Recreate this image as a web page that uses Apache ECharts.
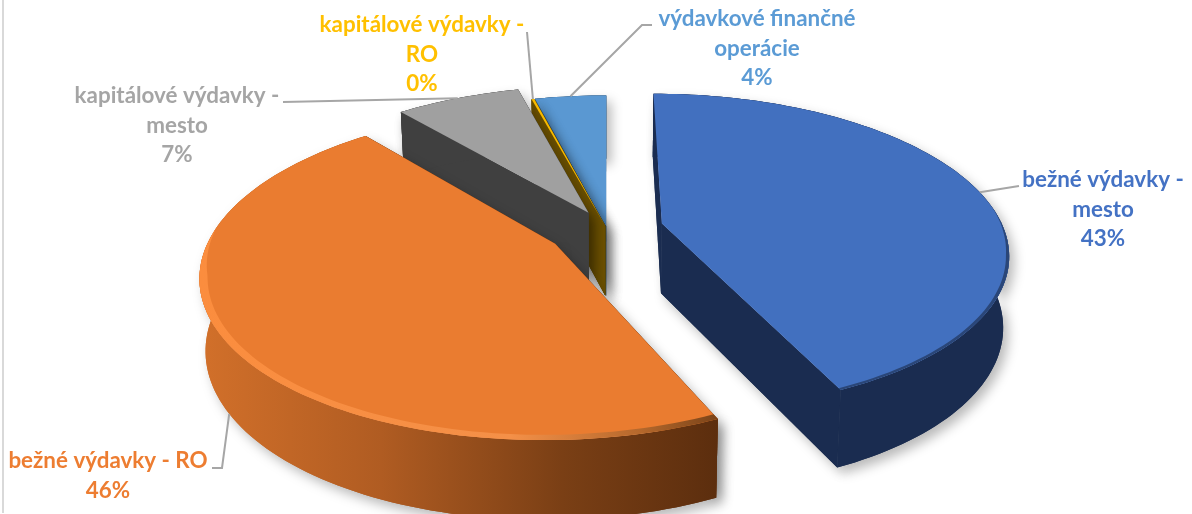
<!DOCTYPE html>
<html><head><meta charset="utf-8">
<style>html,body{margin:0;padding:0;background:#fff}#c{width:1192px;height:514px}</style>
<script src="https://cdn.jsdelivr.net/npm/echarts@6/dist/echarts.min.js"></script>
</head><body><div id="c"></div>
<script>
// data
const categories = ['bežné výdavky - mesto','bežné výdavky - RO','kapitálové výdavky - mesto','kapitálové výdavky - RO','výdavkové finančné operácie'];
const labelLines = [['bežné výdavky -','mesto'],['bežné výdavky - RO'],['kapitálové výdavky -','mesto'],['kapitálové výdavky -','RO'],['výdavkové finančné','operácie']];
const values = [43.2, 45.7, 7.0, 0.15, 3.95];
const explode = [0.165, 0.176, 0.12, 0.02, 0.02];
// style
const topColors  = ['#4270bf','#ea7c30','#a0a0a0','#ffc000','#5a98d2'];
const textColors = ['#4472c4','#ed7d31','#a5a5a5','#ffc000','#5b9bd5'];
const wallColors = ['#1a2c50','#6a350f','#404040','#6b5000','#2f5578'];
const drawOrder = [4,3,2,0,1];
// camera
const CX=607, CY=229, RX=342, TILT=155, K=0.18, DEPTH=70, DEPTH_POW=0.6, BOTTOM_SHRINK=0.985;
const FONT = 'Lato', FS = 22.4, LH = 29.5;
const labelCenter = [[1103,180],[108,461],[177,96],[422,25],[757,19]];
const leaderElbow = [[[1019,186]],[[222,468],[212,468]],[[283,102]],[[527,32]],[[642,25],[652,25]]];
const rimWidth = [0.009,0.022,0,0,0];

const total = values.reduce((a,b)=>a+b,0);
const D2R = Math.PI/180;
let acc=0;
const spans = values.map(v=>{const s=acc; acc+=v/total*360; return [s,acc];});
function proj(i,deg,r,z){
  const th=deg*D2R, m=(spans[i][0]+spans[i][1])/2*D2R, e=explode[i];
  const X=e*Math.sin(m)+r*Math.sin(th), Y=-e*Math.cos(m)-r*Math.cos(th);
  const s=1/(1-K*Y), b=z?BOTTOM_SHRINK:1;
  return [CX+X*s*RX*b, CY+Y*s*TILT+(z?DEPTH*Math.pow(s,DEPTH_POW):0)];
}
function arc(i,r,z){
  const [a,b]=spans[i], n=Math.max(2,Math.ceil((b-a)/1.5)), p=[];
  for(let k=0;k<=n;k++)p.push(proj(i,a+(b-a)*k/n,r,z));
  return p;
}
const shadow={shadowBlur:12,shadowColor:'rgba(0,0,0,0.28)',shadowOffsetX:5,shadowOffsetY:6};
const orangeWall=new echarts.graphic.LinearGradient(0,0,1,0,[
  {offset:0,color:'#d2702a'},{offset:0.35,color:'#b05c22'},{offset:0.7,color:'#7a3f15'},{offset:1,color:'#5c2e0e'}]);
const orangeRim=new echarts.graphic.LinearGradient(0,0,1,0,[
  {offset:0,color:'#fb8d3e'},{offset:0.6,color:'#f49048'},{offset:0.85,color:'#b5682c'},{offset:1,color:'#7a4318'}]);
const wallFill=[null,orangeWall,null,null,null];
const rimFill=['#2a4678',orangeRim,null,null,null];

function renderItem(params,api){
  const i=api.value(0), kids=[];
  const poly=(points,fill,extra)=>kids.push({type:'polygon',shape:{points},style:Object.assign({fill},extra||{})});
  const [a,b]=spans[i], wall=wallFill[i]||wallColors[i];
  const ap0=proj(i,a,0,0), ap1=proj(i,a,0,1);
  const t=arc(i,1,0), bt=arc(i,1,1);
  const outerWall=t.concat(bt.slice().reverse());
  const radials=[a,b].map(d=>[ap0,proj(i,d,1,0),proj(i,d,1,1),ap1]);
  // shadow pass, then clean walls on top of it
  radials.forEach(q=>poly(q,wallColors[i],Object.assign({},shadow)));
  poly(outerWall,wall,Object.assign({},shadow));
  radials.forEach(q=>poly(q,wallColors[i]));
  poly(outerWall,wall);
  poly([ap0].concat(t),topColors[i]);
  if(rimFill[i]){
    const n=Math.ceil((b-a)/1.5), outer=[], inner=[];
    for(let k=0;k<=n;k++){
      const d=a+(b-a)*k/n, c=-Math.cos(d*D2R), w=rimWidth[i]*Math.max(0,Math.min(1,(c+0.1)/0.3));
      outer.push(proj(i,d,1,0)); inner.push(proj(i,d,1-w,0));
    }
    poly(outer.concat(inner.reverse()),rimFill[i]);
  }
  // leader line
  const mid=(a+b)/2, onWall=Math.cos(mid*D2R)<0&&Math.sin(mid*D2R)<0;
  const pts=[proj(i,mid,1,onWall?1:0)].concat(leaderElbow[i]);
  kids.push({type:'polyline',shape:{points:pts},style:{stroke:'#a6a6a6',lineWidth:2,fill:null},z2:20});
  // label
  const lines=labelLines[i].concat([Math.round(values[i]/total*100)+'%']);
  lines.forEach((s,n)=>kids.push({type:'text',z2:21,style:{
    text:s,x:labelCenter[i][0],y:labelCenter[i][1]+n*LH,align:'center',verticalAlign:'middle',
    fill:textColors[i],font:'bold '+FS+'px '+FONT}}));
  return {type:'group',children:kids};
}
const chart=echarts.init(document.getElementById('c'),null,{renderer:'canvas'});
chart.setOption({
  animation:false,
  backgroundColor:'#fff',
  graphic:[{type:'line',shape:{x1:3,y1:0,x2:3,y2:513},style:{stroke:'#d9d9d9',lineWidth:2},silent:true}],
  series:[{type:'custom',coordinateSystem:'none',renderItem,silent:true,
    encode:{itemName:2},
    data:drawOrder.map(i=>[i,values[i],categories[i]])}]
});
</script></body></html>
